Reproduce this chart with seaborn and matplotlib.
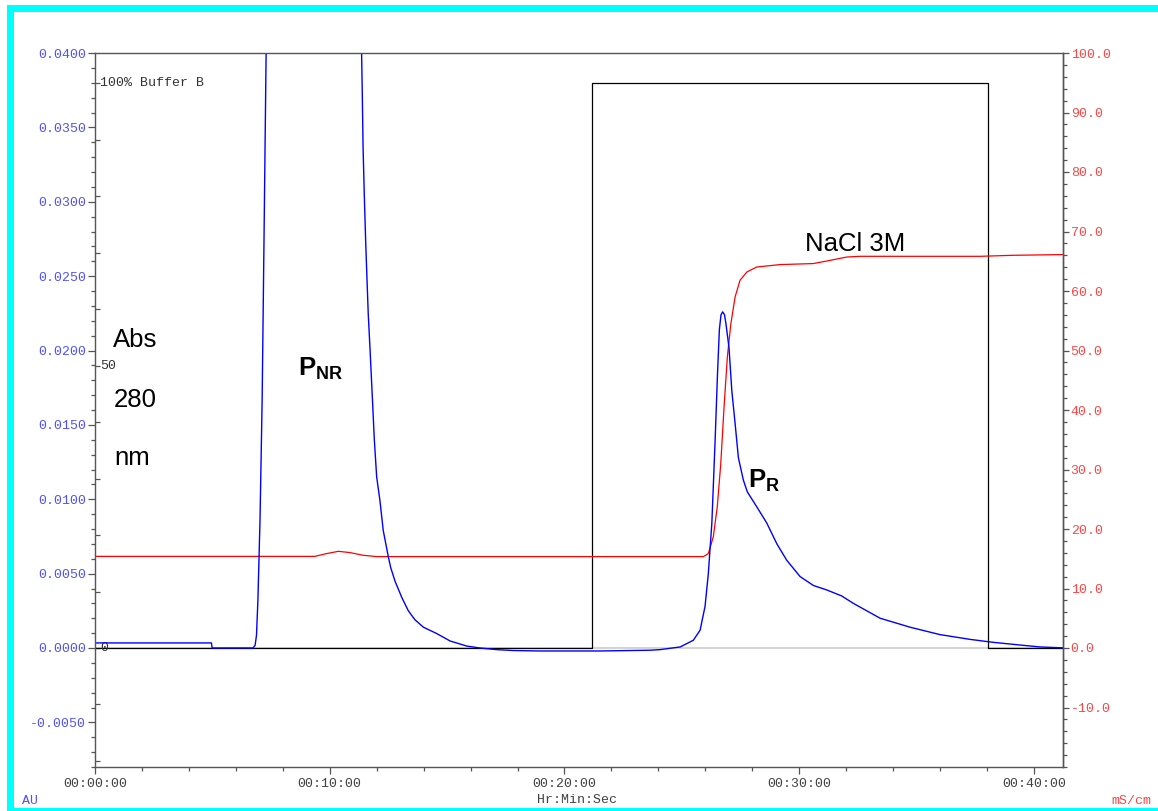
import matplotlib
matplotlib.use("Agg")
import numpy as np
import pandas as pd
import matplotlib.pyplot as plt
import seaborn as sns
from matplotlib.patches import Rectangle
from matplotlib.ticker import MultipleLocator, FixedLocator, FormatStrFormatter, FuncFormatter

# UV 280 nm trace (time in min, absorbance in AU)
uv_time = [0.0, 4.96, 4.99, 6.73, 6.82, 6.88, 6.94, 7.03, 7.12, 7.20, 7.29, 7.36, 7.60,
           11.00, 11.33, 11.36, 11.39, 11.42, 11.47, 11.53, 11.59, 11.64, 11.72, 11.82,
           11.90, 12.00, 12.14, 12.28, 12.50, 12.60, 12.78, 13.07, 13.35, 13.63, 13.99,
           14.56, 15.13, 15.84, 16.40, 17.12, 17.82, 18.96, 21.52, 23.65, 24.07, 24.93,
           25.49, 25.78, 25.99, 26.13, 26.28, 26.42, 26.52, 26.60, 26.67, 26.74, 26.82,
           26.88, 27.01, 27.13, 27.27, 27.41, 27.62, 27.79, 28.19, 28.62, 29.05, 29.47,
           30.04, 30.61, 31.18, 31.81, 32.31, 32.88, 33.45, 34.72, 36.00, 37.28, 38.27,
           39.41, 40.26, 41.24]
uv_au = [0.00034, 0.00034, 0.0, 0.0, 0.00018, 0.00085, 0.0032, 0.0086, 0.0166, 0.0274,
         0.0400, 0.0500, 0.0900, 0.0900, 0.0470, 0.0398, 0.0370, 0.0337, 0.0306, 0.0274,
         0.0247, 0.0225, 0.0200, 0.0167, 0.0140, 0.0115, 0.0099, 0.0079, 0.0061, 0.0054,
         0.0045, 0.0034, 0.0025, 0.0019, 0.0014, 0.00097, 0.00047, 0.00013, 0.0, -0.00011,
         -0.00017, -0.0002, -0.0002, -0.00015, -0.00011, 0.00007, 0.00052, 0.0012, 0.0028,
         0.0050, 0.0084, 0.0140, 0.0184, 0.0214, 0.0224, 0.0226, 0.0224, 0.0218, 0.0202,
         0.0173, 0.0151, 0.0128, 0.0113, 0.0105, 0.0095, 0.0084, 0.0070, 0.0059, 0.0048,
         0.0042, 0.0039, 0.0035, 0.0030, 0.0025, 0.0020, 0.0014, 0.0009, 0.00058, 0.00038,
         0.0002, 0.00007, 0.00001]

# conductivity (mS/cm)
cond_time = [0.0, 9.37, 9.87, 10.37, 10.87, 11.43, 12.00, 25.92, 26.13, 26.34, 26.51,
             26.66, 26.80, 26.94, 27.09, 27.27, 27.48, 27.77, 28.19, 29.19, 30.60, 31.18,
             32.03, 32.59, 37.71, 39.11, 41.24]
cond_ms = [15.4, 15.4, 15.87, 16.25, 16.03, 15.58, 15.36, 15.36, 15.87, 18.66, 23.70,
           30.99, 40.50, 48.91, 54.52, 58.99, 61.80, 63.19, 64.03, 64.44, 64.61, 65.04,
           65.71, 65.83, 65.83, 66.0, 66.12]

# % buffer B program
buf_time = [0.0, 21.18, 21.18, 38.03, 38.03, 41.24]
buf_pct = [0, 0, 100, 100, 0, 0]

au_ticks = [-0.005, 0.0, 0.005, 0.010, 0.015, 0.020, 0.025, 0.030, 0.035, 0.040]
ms_ticks = [-10, 0, 10, 20, 30, 40, 50, 60, 70, 80, 90, 100]
buf_ticks = [-20, -10, 0, 10, 20, 30, 40, 50, 60, 70, 80, 90, 100]
buf_labels = {0: "0", 50: "50", 100: "100% Buffer B"}

sns.set_style("white")
plt.rcParams["font.family"] = ["Liberation Sans", "DejaVu Sans"]
plt.rcParams["text.color"] = "black"
plt.rcParams["mathtext.fontset"] = "custom"
plt.rcParams["mathtext.rm"] = "Liberation Sans"
plt.rcParams["mathtext.bf"] = "Liberation Sans:bold"

MONO = "Liberation Mono"
SPINE = "#555555"
BLUE_LBL = "#5050ff"
RED_LBL = "#ff4545"

fig = plt.figure(figsize=(11.58, 8.11), dpi=100)
ax = fig.add_axes([95 / 1158, 1 - 767 / 811, 968 / 1158, 714 / 811])
ax2 = ax.twinx()
ax3 = ax.twinx()
ax3.set_zorder(1)
ax2.set_zorder(2)
ax.set_zorder(3)
ax.patch.set_visible(False)

uv = pd.DataFrame({"t": uv_time, "au": uv_au})
cond = pd.DataFrame({"t": cond_time, "ms": cond_ms})
buf = pd.DataFrame({"t": buf_time, "pct": buf_pct})

# zero baseline lives on the buffer axis (same zero) so the black trace sits on top
ax3.axhline(0, color="#d0d0d0", lw=1.3, zorder=0)
sns.lineplot(data=buf, x="t", y="pct", ax=ax3, color="black", lw=0.9,
             estimator=None, sort=False, zorder=2)
sns.lineplot(data=cond, x="t", y="ms", ax=ax2, color="red", lw=0.9,
             estimator=None, sort=False)
sns.lineplot(data=uv, x="t", y="au", ax=ax, color="#0000ff", lw=1.0,
             estimator=None, sort=False)

# limits
ax.set_xlim(0, 41.24)
ax.set_ylim(-0.008, 0.040)
ax2.set_ylim(-20, 100)
top_au = 0.03798
ax3.set_ylim(-0.008 / top_au * 100, 0.040 / top_au * 100)

for a in (ax, ax2, ax3):
    a.set_xlabel("")
    a.set_ylabel("")

# spines
for s in ax3.spines.values():
    s.set_visible(False)
for s in ax2.spines.values():
    s.set_visible(False)
ax2.spines["right"].set_visible(True)
for name, s in ax.spines.items():
    s.set_color(SPINE)
    s.set_linewidth(1.0)
ax2.spines["right"].set_color(SPINE)
ax2.spines["right"].set_linewidth(1.0)

# x axis
ax.xaxis.set_major_locator(MultipleLocator(10))
ax.xaxis.set_minor_locator(MultipleLocator(2))
ax.xaxis.set_major_formatter(FuncFormatter(lambda v, p: f"00:{int(round(v)):02d}:00"))
ax.tick_params(axis="x", which="major", direction="out", length=5, width=0.9,
               color=SPINE, labelsize=9.5, labelcolor="#404040", pad=3,
               labelfontfamily=MONO, bottom=True)
ax.tick_params(axis="x", which="minor", direction="out", length=3, width=0.9,
               color=SPINE, bottom=True)

# left AU axis
ax.yaxis.set_major_locator(FixedLocator(au_ticks))
ax.yaxis.set_minor_locator(MultipleLocator(0.001))
ax.yaxis.set_major_formatter(FormatStrFormatter("%.4f"))
ax.tick_params(axis="y", which="major", direction="out", length=5, width=0.9,
               color=SPINE, labelsize=9.5, labelcolor=BLUE_LBL, pad=1.5,
               labelfontfamily=MONO, left=True)
ax.tick_params(axis="y", which="minor", direction="out", length=3, width=0.9,
               color=SPINE, left=True)

# right conductivity axis
ax2.yaxis.set_major_locator(FixedLocator(ms_ticks))
ax2.yaxis.set_minor_locator(MultipleLocator(2))
ax2.yaxis.set_major_formatter(FormatStrFormatter("%.1f"))
ax2.tick_params(axis="y", which="major", direction="out", length=4.5, width=0.9,
                color=SPINE, labelsize=9.5, labelcolor=RED_LBL, pad=1,
                labelfontfamily=MONO, right=True)
ax2.tick_params(axis="y", which="minor", direction="out", length=3, width=0.9,
                color=SPINE, right=True)

# buffer B axis: inward ticks on the left spine, labels inside
ax3.yaxis.set_ticks_position("left")
ax3.yaxis.set_major_locator(FixedLocator(buf_ticks))
ax3.tick_params(axis="y", which="major", direction="in", length=3.5, width=0.9,
                color=SPINE, labelleft=False, labelright=False)
for v, lbl in buf_labels.items():
    ax3.annotate(lbl, xy=(0, v), xycoords=("axes fraction", "data"),
                 xytext=(3.8, 0), textcoords="offset points", ha="left", va="center",
                 fontsize=9.5, family=MONO, color="#333333")

# annotations
big = 18.5
ax.text(0.77, 0.02023, "Abs", fontsize=big, ha="left", va="baseline", color="black")
ax.text(0.82, 0.0162, "280", fontsize=big, ha="left", va="baseline", color="black")
ax.text(0.82, 0.01228, "nm", fontsize=big, ha="left", va="baseline", color="black")
ax.text(8.65, 0.01833, r"$\mathbf{P}_{\mathbf{NR}}$", fontsize=big, ha="left",
        va="baseline", color="black")
ax.text(27.84, 0.01082, r"$\mathbf{P}_{\mathbf{R}}$", fontsize=big, ha="left",
        va="baseline", color="black")
ax.text(30.25, 0.02672, "NaCl 3M", fontsize=big, ha="left", va="baseline", color="black")

# unit labels
fig.text(22 / 1158, 1 - 801 / 811, "AU", fontsize=9.5, family=MONO, color=BLUE_LBL,
         ha="left", va="center")
fig.text(1151 / 1158, 1 - 801 / 811, "mS/cm", fontsize=9.5, family=MONO, color=RED_LBL,
         ha="right", va="center")
fig.text(577 / 1158, 1 - 800 / 811, "Hr:Min:Sec", fontsize=9.5, family=MONO,
         color="#404040", ha="center", va="center")

# cyan frame
cyan = "#00ffff"
fig.add_artist(Rectangle((7 / 1158, 0), 7 / 1158, 1 - 5 / 811, transform=fig.transFigure,
                         facecolor=cyan, edgecolor="none"))
fig.add_artist(Rectangle((7 / 1158, 1 - 12 / 811), 1, 7 / 811, transform=fig.transFigure,
                         facecolor=cyan, edgecolor="none"))
fig.add_artist(Rectangle((7 / 1158, 0), 1, 3 / 811, transform=fig.transFigure,
                         facecolor=cyan, edgecolor="none"))

fig.savefig("out.png", dpi=100)
